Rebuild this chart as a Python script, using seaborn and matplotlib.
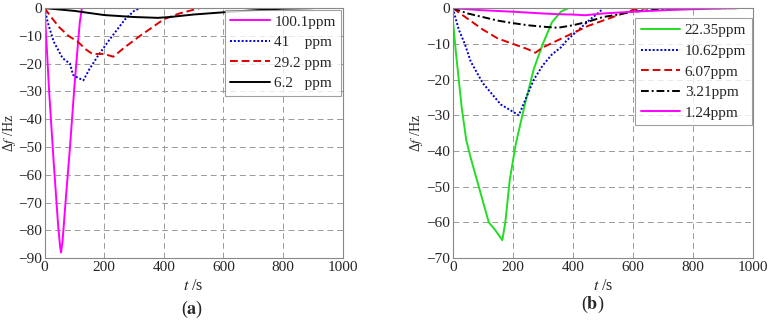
import matplotlib
matplotlib.use('Agg')
import matplotlib.pyplot as plt
import seaborn as sns
import numpy as np
import pandas as pd

# (a) response curves
a_labels = ["100.1ppm", "41    ppm", "29.2 ppm", "6.2   ppm"]
a1_t = [0, 5, 15, 30, 45, 52, 55, 60, 70, 85, 100, 110, 118, 125]
a1_f = [-1, -10, -30, -55, -78, -86, -88, -84, -70, -50, -28, -15, -5, 0]
a2_t = [0, 10, 30, 60, 85, 95, 110, 130, 150, 180, 220, 270, 300, 320]
a2_f = [0, -5, -12, -18, -20, -24, -25, -26, -22, -17, -11, -4, -1, 0]
a3_t = [0, 20, 50, 80, 110, 140, 160, 200, 230, 270, 320, 400, 450, 520]
a3_f = [0, -3, -7, -10, -12, -15, -16.5, -16.5, -17.5, -14, -10, -4, -2, 0]
a4_t = [0, 100, 200, 300, 380, 420, 500, 600, 700, 800, 900]
a4_f = [0, -1, -2.5, -3.2, -3.5, -3.2, -2.3, -1.5, -0.8, -0.2, 0]

# (b) response curves
b_labels = ["22.35ppm", "10.62ppm", "6.07ppm", "3.21ppm", "1.24ppm"]
b1_t = [0, 10, 20, 30, 45, 60, 80, 100, 120, 140, 165, 175, 190, 210, 240, 270, 300, 330, 360, 385]
b1_f = [-3, -12, -20, -28, -37, -42, -48, -54, -60, -62, -65, -60, -48, -38, -27, -17, -10, -4, -1, 0]
b2_t = [0, 20, 40, 60, 80, 100, 130, 160, 190, 220, 240, 270, 300, 330, 360, 380, 420, 460, 490, 500]
b2_f = [0, -6, -10, -15, -18, -21, -24, -27, -28.5, -30, -26, -20, -16, -13, -11, -9, -6, -3, -1, 0]
b3_t = [0, 50, 100, 150, 200, 250, 275, 300, 350, 400, 450, 500, 550, 600, 650]
b3_f = [0, -3, -6, -8.5, -10, -11.5, -12.5, -11, -9, -7, -5, -3.5, -2, -0.5, 0]
b4_t = [0, 50, 100, 150, 200, 250, 300, 350, 400, 450, 500, 550, 600, 700, 800, 950]
b4_f = [0, -1.5, -2.5, -3.5, -4.2, -4.8, -5.2, -5.5, -4.8, -3.8, -2.5, -1.8, -1, -0.3, 0, 0]
b5_t = [0, 100, 200, 300, 350, 400, 440, 500, 600, 700, 800, 950]
b5_f = [0, -0.6, -1, -1.5, -1.7, -1.8, -2, -1.5, -1, -0.6, -0.3, 0]


def make_df(ts, fs, labels):
    frames = []
    for t, f, lab in zip(ts, fs, labels):
        frames.append(pd.DataFrame({'t': t, 'f': f, 'conc': lab}))
    return pd.concat(frames, ignore_index=True)


def style_axes(ax, ymin, ylab_x):
    ax.set_xlim(0, 1000)
    ax.set_ylim(ymin, 0)
    ax.set_xticks(np.arange(0, 1001, 200))
    ax.set_yticks(np.arange(ymin, 1, 10))
    ax.grid(True, color='#999999', linestyle=(0, (6, 4)), linewidth=0.7)
    for sp in ax.spines.values():
        sp.set_color('#888888')
        sp.set_linewidth(0.8)
    ax.tick_params(labelsize=11, length=0, pad=2)
    ax.set_xlabel('$t$ /s', fontsize=11.5, labelpad=3)
    ax.set_ylabel('Δ$f$ /Hz', fontsize=10)
    ax.yaxis.set_label_coords(ylab_x, 0.5)


def style_legend(ax, anchor):
    leg = ax.legend(loc='upper right', bbox_to_anchor=anchor, fontsize=11,
                    frameon=True, fancybox=False, borderpad=0.35, labelspacing=0.45,
                    handlelength=2.6, handletextpad=0.3, borderaxespad=0.1)
    leg.get_frame().set_edgecolor('#888888')
    leg.get_frame().set_linewidth(0.8)


sns.set_style('whitegrid')
plt.rcParams['font.family'] = ['Liberation Serif', 'DejaVu Serif']
plt.rcParams['mathtext.fontset'] = 'stix'

fig = plt.figure(figsize=(7.7, 3.25), dpi=100)
ax1 = fig.add_axes([0.058, 0.206, 0.387, 0.769])
ax2 = fig.add_axes([0.588, 0.206, 0.39, 0.769])

dfa = make_df([a1_t, a2_t, a3_t, a4_t], [a1_f, a2_f, a3_f, a4_f], a_labels)
sns.lineplot(data=dfa, x='t', y='f', hue='conc', style='conc', ax=ax1,
             palette=['#ff00ff', '#0000cc', '#dd0000', '#000000'],
             dashes=[(None, None), (1, 1), (4, 2), (None, None)],
             linewidth=1.4, sort=False, estimator=None)
style_axes(ax1, -90, -0.09)
style_legend(ax1, (1.0, 1.0))

dfb = make_df([b1_t, b2_t, b3_t, b4_t, b5_t], [b1_f, b2_f, b3_f, b4_f, b5_f], b_labels)
sns.lineplot(data=dfb, x='t', y='f', hue='conc', style='conc', ax=ax2,
             palette=['#22dd22', '#0000cc', '#dd0000', '#000000', '#ff00ff'],
             dashes=[(None, None), (1, 1), (4, 2), (4, 1.5, 1, 1.5), (None, None)],
             linewidth=1.4, sort=False, estimator=None)
style_axes(ax2, -70, -0.093)
style_legend(ax2, (1.0, 0.965))

fig.text(0.25, 0.035, '($\\mathbf{a}$)', ha='center', fontsize=13)
fig.text(0.77, 0.05, '($\\mathbf{b}$)', ha='center', fontsize=13)

plt.savefig('out.png', dpi=100)
plt.close('all')
